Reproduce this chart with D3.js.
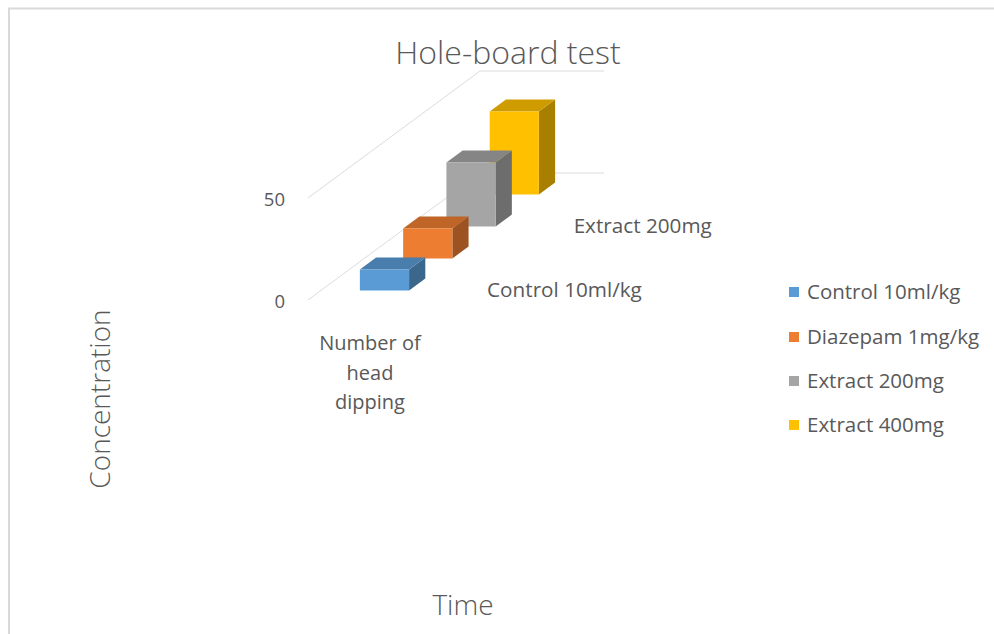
<!DOCTYPE html>
<html>
<head>
<meta charset="utf-8">
<script src="https://cdn.jsdelivr.net/npm/d3@7"></script>
<style>
  body { margin: 0; background: #fff; }
  svg { display: block; }
  text { font-family: "Open Sans", sans-serif; fill: #595959; }
</style>
</head>
<body>
<svg id="chart" width="994" height="634"></svg>
<script>
// ---- data ----
const chartTitle = "Hole-board test";
const categories = ["Number of head dipping"];
const categoryLines = [["Number of", "head", "dipping"]];
const series = ["Control 10ml/kg", "Diazepam 1mg/kg", "Extract 200mg", "Extract 400mg"];
const values = [10.3, 14.7, 31.4, 40.7];
const valueTicks = [0, 50];
const seriesColors = ["#5B9BD5", "#ED7D31", "#A5A5A5", "#FFC000"];
const yAxisTitle = "Concentration";
const xAxisTitle = "Time";

const svg = d3.select("#chart");

// chart frame border (top and left edge)
svg.append("path")
  .attr("d", "M9,634 V8.5 H994")
  .attr("fill", "none")
  .attr("stroke", "#d9d9d9")
  .attr("stroke-width", 2);

// ---- oblique 3D projection ----
const origin = { x: 308, y: 300 };       // front-left corner of the floor
const depthVec = { x: 172, y: -127 };    // front -> back wall
const wallWidth = 124;

const yScale = d3.scaleLinear().domain([0, 50]).range([0, 102]);
const xScale = d3.scaleBand().domain(categories).range([0, wallWidth])
  .paddingInner(0).paddingOuter(0.76).align(0.52);
const zScale = d3.scaleBand().domain(series).range([0, 1])
  .paddingInner(0.625).paddingOuter(0.3);

function P(u, d, v) {
  return [origin.x + u + d * depthVec.x, origin.y - yScale(v) + d * depthVec.y];
}
const poly = pts => "M" + pts.map(p => p.join(",")).join("L") + "Z";

// ---- gridlines on side and back walls ----
const grid = svg.append("g").attr("class", "grid");
valueTicks.forEach(t => {
  const pts = [P(0, 0, t), P(0, 1, t), P(wallWidth, 1, t)];
  grid.append("path")
    .attr("d", d3.line()(pts))
    .attr("fill", "none")
    .attr("stroke", "#dcdcdc")
    .attr("stroke-width", 1);
});

// value axis labels
svg.append("g").selectAll("text")
  .data(valueTicks)
  .join("text")
  .attr("x", d => P(0, 0, d)[0] - 23)
  .attr("y", d => P(0, 0, d)[1] + 2)
  .attr("dy", "0.35em")
  .attr("text-anchor", "end")
  .attr("font-size", 18.5)
  .text(d => d);

// ---- 3D columns (drawn back to front) ----
const bars = series.map((s, i) => ({ s, v: values[i], c: seriesColors[i], cat: categories[0] }));
const barG = svg.append("g").attr("class", "bars");
bars.slice().reverse().forEach(b => {
  const u0 = xScale(b.cat), u1 = u0 + xScale.bandwidth();
  const d0 = zScale(b.s), d1 = d0 + zScale.bandwidth();
  const base = d3.color(b.c);
  const g = barG.append("g");
  // right side face
  g.append("path")
    .attr("d", poly([P(u1, d0, 0), P(u1, d1, 0), P(u1, d1, b.v), P(u1, d0, b.v)]))
    .attr("fill", base.darker(1.15));
  // top face
  g.append("path")
    .attr("d", poly([P(u0, d0, b.v), P(u1, d0, b.v), P(u1, d1, b.v), P(u0, d1, b.v)]))
    .attr("fill", base.darker(0.6));
  // front face
  g.append("path")
    .attr("d", poly([P(u0, d0, 0), P(u1, d0, 0), P(u1, d0, b.v), P(u0, d0, b.v)]))
    .attr("fill", base);
});

// ---- category label below the floor ----
const catCenter = wallWidth / 2;
const catLabel = svg.append("text")
  .attr("text-anchor", "middle")
  .attr("font-size", 20);
categoryLines[0].forEach((line, i) => {
  catLabel.append("tspan")
    .attr("x", origin.x + catCenter)
    .attr("y", origin.y + 43 + i * 29.5)
    .attr("dy", "0.35em")
    .text(line);
});

// ---- depth (series) axis labels, every other one ----
svg.append("g").selectAll("text")
  .data(series.filter((s, i) => i % 2 === 0))
  .join("text")
  .attr("x", s => P(wallWidth, zScale(s) + zScale.bandwidth() / 2, 0)[0] + 34)
  .attr("y", s => P(wallWidth, zScale(s) + zScale.bandwidth() / 2, 0)[1] + 5)
  .attr("dy", "0.35em")
  .attr("font-size", 20.7)
  .text(s => s);

// ---- title ----
svg.append("text")
  .attr("x", 508)
  .attr("y", 53)
  .attr("dy", "0.35em")
  .attr("text-anchor", "middle")
  .attr("font-size", 32)
  .attr("font-weight", 300)
  .text(chartTitle);

// ---- axis titles ----
svg.append("text")
  .attr("transform", "translate(100,399) rotate(-90)")
  .attr("dy", "0.35em")
  .attr("text-anchor", "middle")
  .attr("font-size", 28)
  .attr("font-weight", 300)
  .attr("fill", "#333333")
  .text(yAxisTitle);

svg.append("text")
  .attr("x", 463)
  .attr("y", 605)
  .attr("dy", "0.35em")
  .attr("text-anchor", "middle")
  .attr("font-size", 28)
  .attr("font-weight", 300)
  .attr("fill", "#333333")
  .text(xAxisTitle);

// ---- legend ----
const legendRows = [292, 337, 381, 425];
const legend = svg.append("g").selectAll("g")
  .data(series)
  .join("g")
  .attr("transform", (d, i) => `translate(789,${legendRows[i]})`);
legend.append("rect")
  .attr("x", 0).attr("y", -5)
  .attr("width", 10).attr("height", 10)
  .attr("fill", (d, i) => seriesColors[i]);
legend.append("text")
  .attr("x", 18)
  .attr("dy", "0.35em")
  .attr("font-size", 20.5)
  .text(d => d);
</script>
</body>
</html>
